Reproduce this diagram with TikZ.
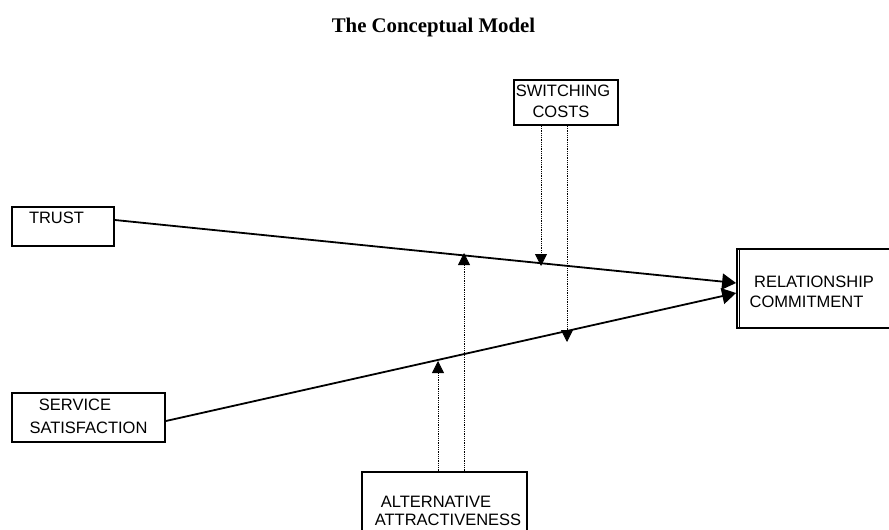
\documentclass[tikz,border=0pt]{standalone}
\usepackage{fontspec}
\setmainfont{Liberation Serif}
\newfontfamily\arialf{Liberation Sans}
\usetikzlibrary{arrows.meta}
\begin{document}
\begin{tikzpicture}[x=1pt,y=-1pt,
  box/.style={draw,line width=1.8pt,inner sep=0pt},
  lbl/.style={inner sep=0pt,font=\arialf\fontsize{16.5}{20}\selectfont},
  link/.style={line width=1.8pt,-{Triangle[length=14pt,width=16pt]}},
  mod/.style={densely dotted,line width=0.8pt,-{Triangle[length=12pt,width=12pt]}}]
\clip (0,0) rectangle (889,530);
\fill[white] (0,0) rectangle (889,530);

% title
\node[anchor=base,inner sep=0pt,font=\bfseries\fontsize{20.8}{24}\selectfont] (title) at (433.5,32) {The Conceptual Model};

% boxes
\node[box,minimum width=102pt,minimum height=39pt] (trust) at (63,226.5) {};
\node[box,minimum width=104pt,minimum height=45pt] (sc) at (566,102.5) {};
\node[box,minimum width=163pt,minimum height=79pt] (rc) at (818.5,288.5) {};
\draw[line width=1.2pt] ([xshift=3pt]rc.north west) -- ([xshift=3pt]rc.south west);
\node[box,minimum width=153pt,minimum height=49pt] (ss) at (88.5,417.5) {};
\node[box,minimum width=165pt,minimum height=73pt] (aa) at (444.5,508.5) {};

% labels
\node[lbl] (tTrust) at (56.5,218) {TRUST};
\node[lbl] (tSw) at (563,91) {SWITCHING};
\node[lbl] (tCo) at (561,111.5) {COSTS};
\node[lbl] (tRel) at (814,282) {RELATIONSHIP};
\node[lbl] (tCom) at (806.5,302) {COMMITMENT};
\node[lbl] (tSer) at (75,405) {SERVICE};
\node[lbl] (tSat) at (88.5,428) {SATISFACTION};
\node[lbl] (tAlt) at (436,502) {ALTERNATIVE};
\node[lbl] (tAtt) at (448,519.5) {ATTRACTIVENESS};

% main links
\draw[link] (trust.east |- 0,220) -- (rc.west |- 0,283);
\draw[link] (ss.east |- 0,421) -- (rc.west |- 0,293);

% moderator arrows
\coordinate (m1) at (541,266);
\coordinate (m2) at (567,342);
\coordinate (m3) at (464,253);
\coordinate (m4) at (438,361);
\draw[mod] (sc.south -| m1) -- (m1);
\draw[mod] (sc.south -| m2) -- (m2);
\draw[mod] (aa.north -| m3) -- (m3);
\draw[mod] (aa.north -| m4) -- (m4);
\end{tikzpicture}
\end{document}
